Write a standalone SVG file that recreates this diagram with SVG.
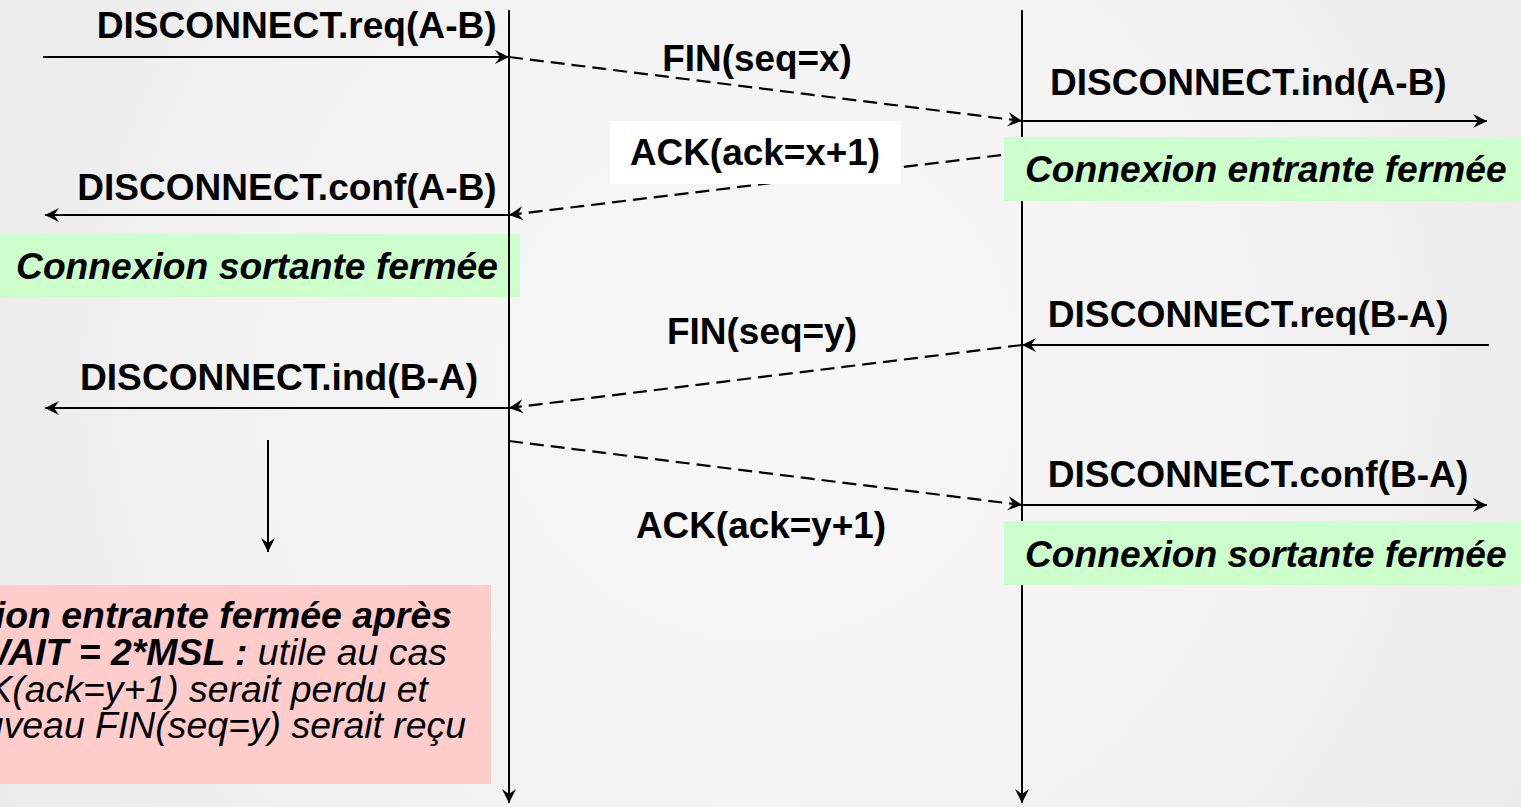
<svg xmlns="http://www.w3.org/2000/svg" width="1521" height="807" viewBox="0 0 1521 807">
  <defs>
    <radialGradient id="bg" cx="760" cy="380" r="900" gradientUnits="userSpaceOnUse">
      <stop offset="0" stop-color="#f7f7f7"/>
      <stop offset="0.6" stop-color="#f2f2f2"/>
      <stop offset="1" stop-color="#e9e9e9"/>
    </radialGradient>
    <marker id="ah" viewBox="-16 -9 18 18" refX="0" refY="0" markerWidth="18" markerHeight="18" markerUnits="userSpaceOnUse" orient="auto">
      <path d="M0,0 L-14,-7 L-9,0 L-14,7 Z" fill="#000"/>
    </marker>
    <style>
      .t { font-family: "Liberation Sans", Arial, sans-serif; font-size: 36.7px; font-weight: bold; fill: #000; }
      .p { font-size: 37.4px; }
      .it { font-style: italic; }
      .n { font-weight: normal; }
      .solid { stroke: #000; stroke-width: 2; fill: none; marker-end: url(#ah); }
      .dash { stroke: #000; stroke-width: 2.2; fill: none; stroke-dasharray: 14 7; marker-end: url(#ah); }
      .green { fill: #ccffcc; }
      .pink { fill: #ffcccc; }
    </style>
  </defs>

  <rect x="0" y="0" width="1521" height="807" fill="url(#bg)"/>

  <g id="state-left-sortante">
    <rect class="green" x="0" y="234" width="520" height="63"/>
  </g>
  <g id="note-timewait">
    <rect class="pink" x="0" y="585" width="491" height="199"/>
    <text class="t p it" text-anchor="end" x="452" y="628">Connexion entrante fermée après</text>
    <text class="t p it" text-anchor="end" x="447" y="665">TIME_WAIT = 2*MSL :<tspan class="n"> utile au cas</tspan></text>
    <text class="t p it n" text-anchor="end" x="428" y="702">où ACK(ack=y+1) serait perdu et</text>
    <text class="t p it n" text-anchor="end" x="466" y="738">un nouveau FIN(seq=y) serait reçu</text>
  </g>

  <g id="connectors">
    <line class="solid" x1="509" y1="10" x2="509" y2="803"/>
    <line class="solid" x1="1022" y1="10" x2="1022" y2="803"/>
    <line class="solid" x1="43" y1="57" x2="509" y2="57"/>
    <line class="dash" x1="509" y1="57" x2="1022" y2="121"/>
    <line class="solid" x1="1022" y1="121" x2="1487" y2="121"/>
    <line class="dash" x1="1022" y1="152.5" x2="509" y2="215"/>
    <line class="solid" x1="509" y1="215" x2="45" y2="215"/>
    <line class="solid" x1="1489" y1="345" x2="1022" y2="345"/>
    <line class="dash" x1="1022" y1="345" x2="509" y2="408"/>
    <line class="solid" x1="509" y1="408" x2="45" y2="408"/>
    <line class="dash" x1="509" y1="441" x2="1022" y2="505"/>
    <line class="solid" x1="1022" y1="505" x2="1487" y2="505"/>
    <line class="solid" x1="268" y1="440" x2="268" y2="552"/>
  </g>

  <g id="state-right-entrante">
    <rect class="green" x="1004" y="137" width="517" height="64"/>
    <text class="t it" x="1025" y="181.7" textLength="481.7" lengthAdjust="spacingAndGlyphs">Connexion entrante fermée</text>
  </g>
  <g id="state-right-sortante">
    <rect class="green" x="1004" y="521" width="517" height="64"/>
    <text class="t it" x="1025" y="566.7" textLength="481.7" lengthAdjust="spacingAndGlyphs">Connexion sortante fermée</text>
  </g>
  <g id="label-ack-x">
    <rect fill="#ffffff" x="610" y="121" width="291" height="63"/>
    <text class="t" x="630" y="165" textLength="250" lengthAdjust="spacingAndGlyphs">ACK(ack=x+1)</text>
  </g>

  <g id="label-left-sortante">
    <text class="t it" x="16" y="279" textLength="482" lengthAdjust="spacingAndGlyphs">Connexion sortante fermée</text>
  </g>
  <g id="label-req-ab">
    <text class="t" x="96.7" y="38" textLength="400" lengthAdjust="spacingAndGlyphs">DISCONNECT.req(A-B)</text>
  </g>
  <g id="label-fin-x">
    <text class="t" x="662.3" y="70.5" textLength="189.4" lengthAdjust="spacingAndGlyphs">FIN(seq=x)</text>
  </g>
  <g id="label-ind-ab">
    <text class="t" x="1050" y="95" textLength="396.7" lengthAdjust="spacingAndGlyphs">DISCONNECT.ind(A-B)</text>
  </g>
  <g id="label-conf-ab">
    <text class="t" x="77.3" y="200" textLength="419.4" lengthAdjust="spacingAndGlyphs">DISCONNECT.conf(A-B)</text>
  </g>
  <g id="label-fin-y">
    <text class="t" x="667" y="344" textLength="190" lengthAdjust="spacingAndGlyphs">FIN(seq=y)</text>
  </g>
  <g id="label-req-ba">
    <text class="t" x="1047.7" y="327" textLength="400.6" lengthAdjust="spacingAndGlyphs">DISCONNECT.req(B-A)</text>
  </g>
  <g id="label-ind-ba">
    <text class="t" x="80" y="390" textLength="398" lengthAdjust="spacingAndGlyphs">DISCONNECT.ind(B-A)</text>
  </g>
  <g id="label-conf-ba">
    <text class="t" x="1047.7" y="487" textLength="420.6" lengthAdjust="spacingAndGlyphs">DISCONNECT.conf(B-A)</text>
  </g>
  <g id="label-ack-y">
    <text class="t" x="636" y="538" textLength="250" lengthAdjust="spacingAndGlyphs">ACK(ack=y+1)</text>
  </g>
</svg>
